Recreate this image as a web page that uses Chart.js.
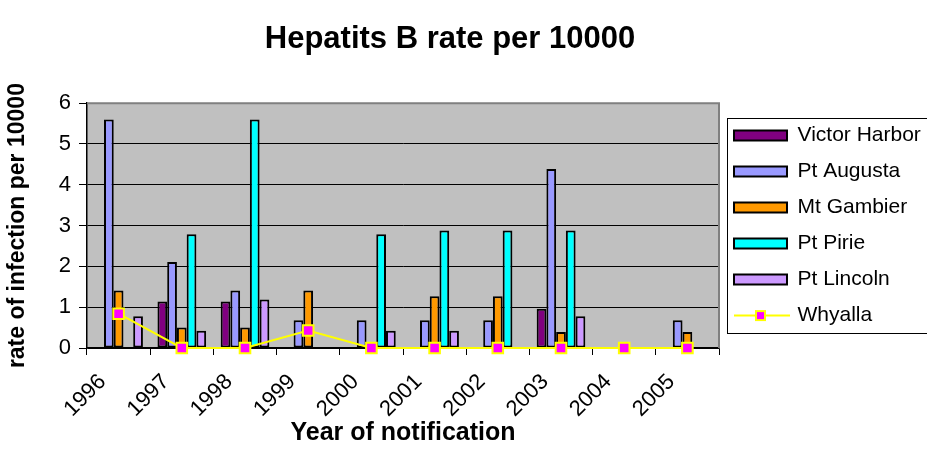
<!DOCTYPE html>
<html>
<head>
<meta charset="utf-8">
<script src="https://cdn.jsdelivr.net/npm/chart.js@4"></script>
<style>
  html, body { margin: 0; padding: 0; background: #fff; }
</style>
</head>
<body>
<canvas id="hepChart" width="927" height="465"></canvas>
<script>
const years = ["1996", "1997", "1998", "1999", "2000", "2001", "2002", "2003", "2004", "2005"];
const victorHarbor = [0, 1.14, 1.14, 0, 0, 0, 0, 0.96, 0, 0];
const ptAugusta = [5.6, 2.11, 1.41, 0.68, 0.68, 0.68, 0.68, 4.39, 0, 0.68];
const mtGambier = [1.41, 0.5, 0.5, 1.41, 0, 1.27, 1.27, 0.39, 0, 0.39];
const ptPirie = [0, 2.79, 5.6, 0, 2.79, 2.88, 2.88, 2.88, 0, 0];
const ptLincoln = [0.78, 0.42, 1.19, 0, 0.42, 0.42, 0, 0.78, 0, 0];
const whyalla = [0.84, 0, 0, 0.43, 0, 0, 0, 0, 0, 0];
const yTicks = [0, 1, 2, 3, 4, 5, 6];

Chart.defaults.font.family = "'Liberation Sans', Arial, sans-serif";
Chart.defaults.color = "#000";

const LEGEND_FONT = 21;

// grey plot area like the old spreadsheet chart
const plotBackground = {
  id: "plotBackground",
  afterLayout(chart) {
    // centre the title over the chart minus the part of the legend that runs off the edge
    chart.titleBlock.right = chart.width - 27;
  },
  beforeDraw(chart) {
    const { ctx, chartArea: a } = chart;
    ctx.save();
    ctx.fillStyle = "#C0C0C0";
    ctx.fillRect(a.left, a.top, a.right - a.left, a.bottom - a.top);
    ctx.restore();
  },
  beforeDatasetsDraw(chart) {
    const { ctx, chartArea: a } = chart;
    ctx.save();
    ctx.strokeStyle = "#808080";
    ctx.lineWidth = 2;
    ctx.beginPath();
    ctx.moveTo(a.left, a.top);
    ctx.lineTo(a.right, a.top);
    ctx.lineTo(a.right, a.bottom);
    ctx.stroke();
    ctx.restore();
  },
};

// frame round the legend and the line+marker sample for Whyalla
const legendFrame = {
  id: "legendFrame",
  afterDraw(chart) {
    const boxes = chart.legend.legendHitBoxes;
    if (!boxes || !boxes.length) return;
    const { ctx } = chart;
    const first = boxes[0];
    const last = boxes[boxes.length - 1];
    ctx.save();
    ctx.strokeStyle = "#000";
    ctx.lineWidth = 1;
    const left = Math.round(first.left - 7) + 0.5;
    const top = Math.round(first.top - 7) + 0.5;
    const bottom = Math.round(last.top + last.height + 7) + 0.5;
    ctx.strokeRect(left, top, chart.width + 5 - left, bottom - top);

    const cy = last.top + LEGEND_FONT / 2;
    ctx.strokeStyle = "#FFFF00";
    ctx.lineWidth = 2;
    ctx.beginPath();
    ctx.moveTo(last.left, cy);
    ctx.lineTo(last.left + 56, cy);
    ctx.stroke();
    ctx.fillStyle = "#FF00FF";
    ctx.fillRect(last.left + 22, cy - 4.5, 9, 9);
    ctx.strokeRect(last.left + 22, cy - 4.5, 9, 9);
    ctx.restore();
  },
};

const barStyle = {
  borderColor: "#000",
  // no outline on empty bars, so nothing shows at zero
  borderWidth: (ctx) => (ctx.raw ? 2 : 0),
  borderSkipped: false,
  barPercentage: 1,
  categoryPercentage: 0.77,
  order: 1,
};

new Chart(document.getElementById("hepChart"), {
  type: "bar",
  data: {
    labels: years,
    datasets: [
      { label: "Victor Harbor", data: victorHarbor, backgroundColor: "#800080", ...barStyle },
      { label: "Pt Augusta", data: ptAugusta, backgroundColor: "#9999FF", ...barStyle },
      { label: "Mt Gambier", data: mtGambier, backgroundColor: "#FF9900", ...barStyle },
      { label: "Pt Pirie", data: ptPirie, backgroundColor: "#00FFFF", ...barStyle },
      { label: "Pt Lincoln", data: ptLincoln, backgroundColor: "#CC99FF", ...barStyle },
      {
        type: "line",
        label: "Whyalla",
        data: whyalla,
        borderColor: "#FFFF00",
        backgroundColor: "#FF00FF",
        borderWidth: 2,
        tension: 0,
        fill: false,
        clip: false,
        pointStyle: "rect",
        pointRadius: 7.5,
        pointBackgroundColor: "#FF00FF",
        pointBorderColor: "#FFFF00",
        pointBorderWidth: 2,
        order: 0,
      },
    ],
  },
  options: {
    responsive: false,
    animation: false,
    layout: { padding: 0 },
    plugins: {
      title: {
        display: true,
        text: "Hepatits B rate per 10000",
        color: "#000",
        font: { size: 31, weight: "bold" },
        padding: { top: 21, bottom: 45 },
      },
      legend: {
        position: "right",
        fullSize: false,
        maxWidth: 208,
        labels: {
          color: "#000",
          font: { size: LEGEND_FONT },
          boxWidth: 53,
          boxHeight: 10,
          padding: 15,
          sort: (a, b) => a.datasetIndex - b.datasetIndex,
          generateLabels(chart) {
            const items = Chart.defaults.plugins.legend.labels.generateLabels(chart);
            items.forEach((item) => {
              item.lineWidth = 2;
              if (item.text === "Whyalla") {
                item.fillStyle = "rgba(0,0,0,0)";
                item.strokeStyle = "rgba(0,0,0,0)";
                item.lineWidth = 0;
              }
            });
            return items;
          },
        },
      },
      tooltip: { enabled: false },
    },
    scales: {
      x: {
        offset: true,
        grid: { offset: true, drawOnChartArea: false, color: "#000", tickLength: 7 },
        border: { color: "#000", width: 1.5 },
        ticks: {
          color: "#000",
          font: { size: 22 },
          minRotation: 45,
          maxRotation: 45,
          autoSkip: false,
          labelOffset: -16,
          padding: 14,
        },
        title: {
          display: true,
          text: "Year of notification",
          color: "#000",
          font: { size: 25, weight: "bold" },
          padding: { top: 0, bottom: 17 },
        },
        afterFit: (scale) => {
          scale.height = 117;
        },
      },
      y: {
        min: 0,
        max: 6,
        afterBuildTicks: (scale) => {
          scale.ticks = yTicks.map((v) => ({ value: v }));
        },
        ticks: { color: "#000", font: { size: 22 }, padding: 8 },
        grid: { color: "#000", lineWidth: 1, tickLength: 8 },
        border: { color: "#000", width: 1.5 },
        title: {
          display: true,
          text: "rate of infection per 10000",
          color: "#000",
          font: { size: 23, weight: "bold" },
          padding: { top: 4, bottom: 0 },
        },
        afterFit: (scale) => {
          scale.width = 87;
        },
      },
    },
  },
  plugins: [plotBackground, legendFrame],
});
</script>
</body>
</html>
